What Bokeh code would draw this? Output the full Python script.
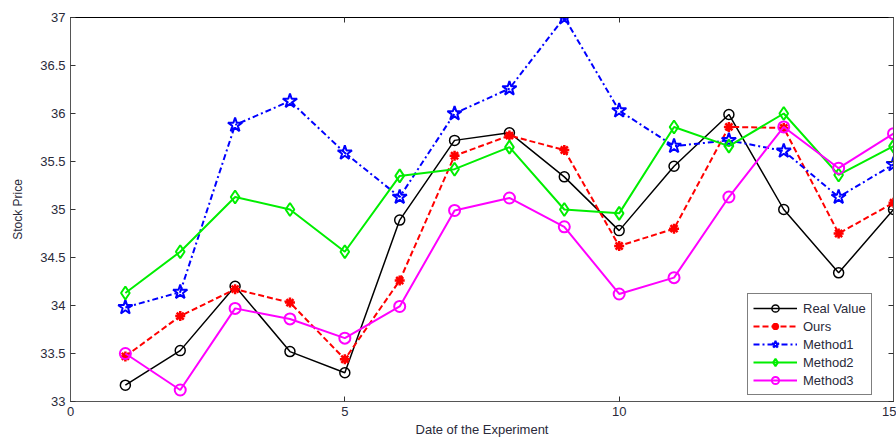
from bokeh.plotting import figure
from bokeh.models import LinearAxis, FixedTicker, CustomJSTickFormatter
from bokeh.embed import file_html
from bokeh.resources import INLINE

days = list(range(1, 16))
real_value = [33.17, 33.53, 34.20, 33.52, 33.30, 34.89, 35.72, 35.80, 35.34, 34.78, 35.45, 35.99, 35.00, 34.34, 35.00]
ours = [33.47, 33.89, 34.17, 34.03, 33.44, 34.26, 35.56, 35.77, 35.62, 34.62, 34.80, 35.86, 35.85, 34.75, 35.07]
method1 = [33.98, 34.14, 35.88, 36.13, 35.59, 35.13, 36.00, 36.26, 37.00, 36.03, 35.66, 35.72, 35.61, 35.13, 35.47]
method2 = [34.13, 34.56, 35.13, 35.00, 34.56, 35.35, 35.42, 35.65, 35.00, 34.96, 35.86, 35.66, 36.00, 35.36, 35.66]
method3 = [33.50, 33.12, 33.97, 33.86, 33.66, 33.99, 34.99, 35.12, 34.82, 34.12, 34.29, 35.13, 35.86, 35.43, 35.79]

x_ticks = [0, 5, 10, 15]
y_ticks = [33, 33.5, 34, 34.5, 35, 35.5, 36, 36.5, 37]
y_tick_labels = ["33", "33.5", "34", "34.5", "35", "35.5", "36", "36.5", "37"]

FONT = "Liberation Sans"
TXT = "#2a2a3a"

p = figure(width=896, height=439, x_range=(0, 15), y_range=(33, 37),
           output_backend="svg", toolbar_location=None,
           min_border_left=70, min_border_right=3, min_border_top=17, min_border_bottom=38)
p.grid.visible = False
p.outline_line_color = "black"
p.outline_line_width = 1

def style_axis(ax):
    ax.major_tick_in = 5
    ax.major_tick_out = 0
    ax.minor_tick_line_color = None
    ax.axis_line_color = "#555555"
    ax.major_tick_line_color = "#333333"
    ax.major_label_text_font = FONT
    ax.major_label_text_font_size = "13px"
    ax.major_label_text_color = TXT
    ax.axis_label_text_font = FONT
    ax.axis_label_text_font_style = "normal"
    ax.axis_label_text_color = TXT

p.xaxis.ticker = FixedTicker(ticks=x_ticks)
p.yaxis.ticker = FixedTicker(ticks=y_ticks)
p.yaxis.major_label_overrides = {t: l for t, l in zip(y_ticks, y_tick_labels)}
style_axis(p.xaxis[0])
style_axis(p.yaxis[0])
p.xaxis.axis_label = "Date of the Experiment"
p.yaxis.axis_label = "Stock Price"
p.xaxis.axis_label_text_font_size = "13px"
p.yaxis.axis_label_text_font_size = "12px"
p.xaxis.major_label_standoff = 5
p.xaxis.axis_label_standoff = 3
p.yaxis.major_label_standoff = 5
p.yaxis.axis_label_standoff = 12

blank = CustomJSTickFormatter(code="return '';")
top_ax = LinearAxis(ticker=FixedTicker(ticks=x_ticks), formatter=blank)
style_axis(top_ax)
top_ax.major_label_standoff = 0
top_ax.axis_line_color = "black"
p.add_layout(top_ax, "above")
right_ax = LinearAxis(ticker=FixedTicker(ticks=y_ticks), formatter=blank)
style_axis(right_ax)
right_ax.major_label_standoff = 0
p.add_layout(right_ax, "right")

# Real Value
p.line(days, real_value, color="black", line_width=1.5, legend_label="Real Value")
p.scatter(days, real_value, marker="circle", size=10, fill_color=None, line_color="black",
          line_width=1.5, legend_label="Real Value")
# Ours
p.line(days, ours, color="red", line_width=2, line_dash="6 3", legend_label="Ours")
p.scatter(days, ours, marker="asterisk", size=10, line_color="red", line_width=2.5,
          legend_label="Ours")
# Method1
p.line(days, method1, color="blue", line_width=2, line_dash="6 3 2 3", legend_label="Method1")
p.scatter(days, method1, marker="star", size=15, fill_color=None, line_color="blue",
          line_width=2, legend_label="Method1")
# Method2
p.line(days, method2, color="#00ee00", line_width=2, legend_label="Method2")
p.scatter(days, method2, marker="diamond", size=13, fill_color=None, line_color="#00ee00",
          line_width=2, legend_label="Method2")
# Method3
p.line(days, method3, color="#ff00ff", line_width=2, legend_label="Method3")
p.scatter(days, method3, marker="circle", size=11, fill_color=None, line_color="#ff00ff",
          line_width=2, legend_label="Method3")

leg = p.legend[0]
leg.location = (677, 6)
leg.label_text_font = FONT
leg.label_text_font_size = "13px"
leg.label_text_color = TXT
leg.glyph_width = 44
leg.glyph_height = 18
leg.label_height = 18
leg.label_standoff = 6
leg.spacing = 0
leg.padding = 5
leg.margin = 0
leg.border_line_color = "black"
leg.border_line_width = 1
leg.background_fill_alpha = 1

open("out.html", "w").write(file_html(p, INLINE))
